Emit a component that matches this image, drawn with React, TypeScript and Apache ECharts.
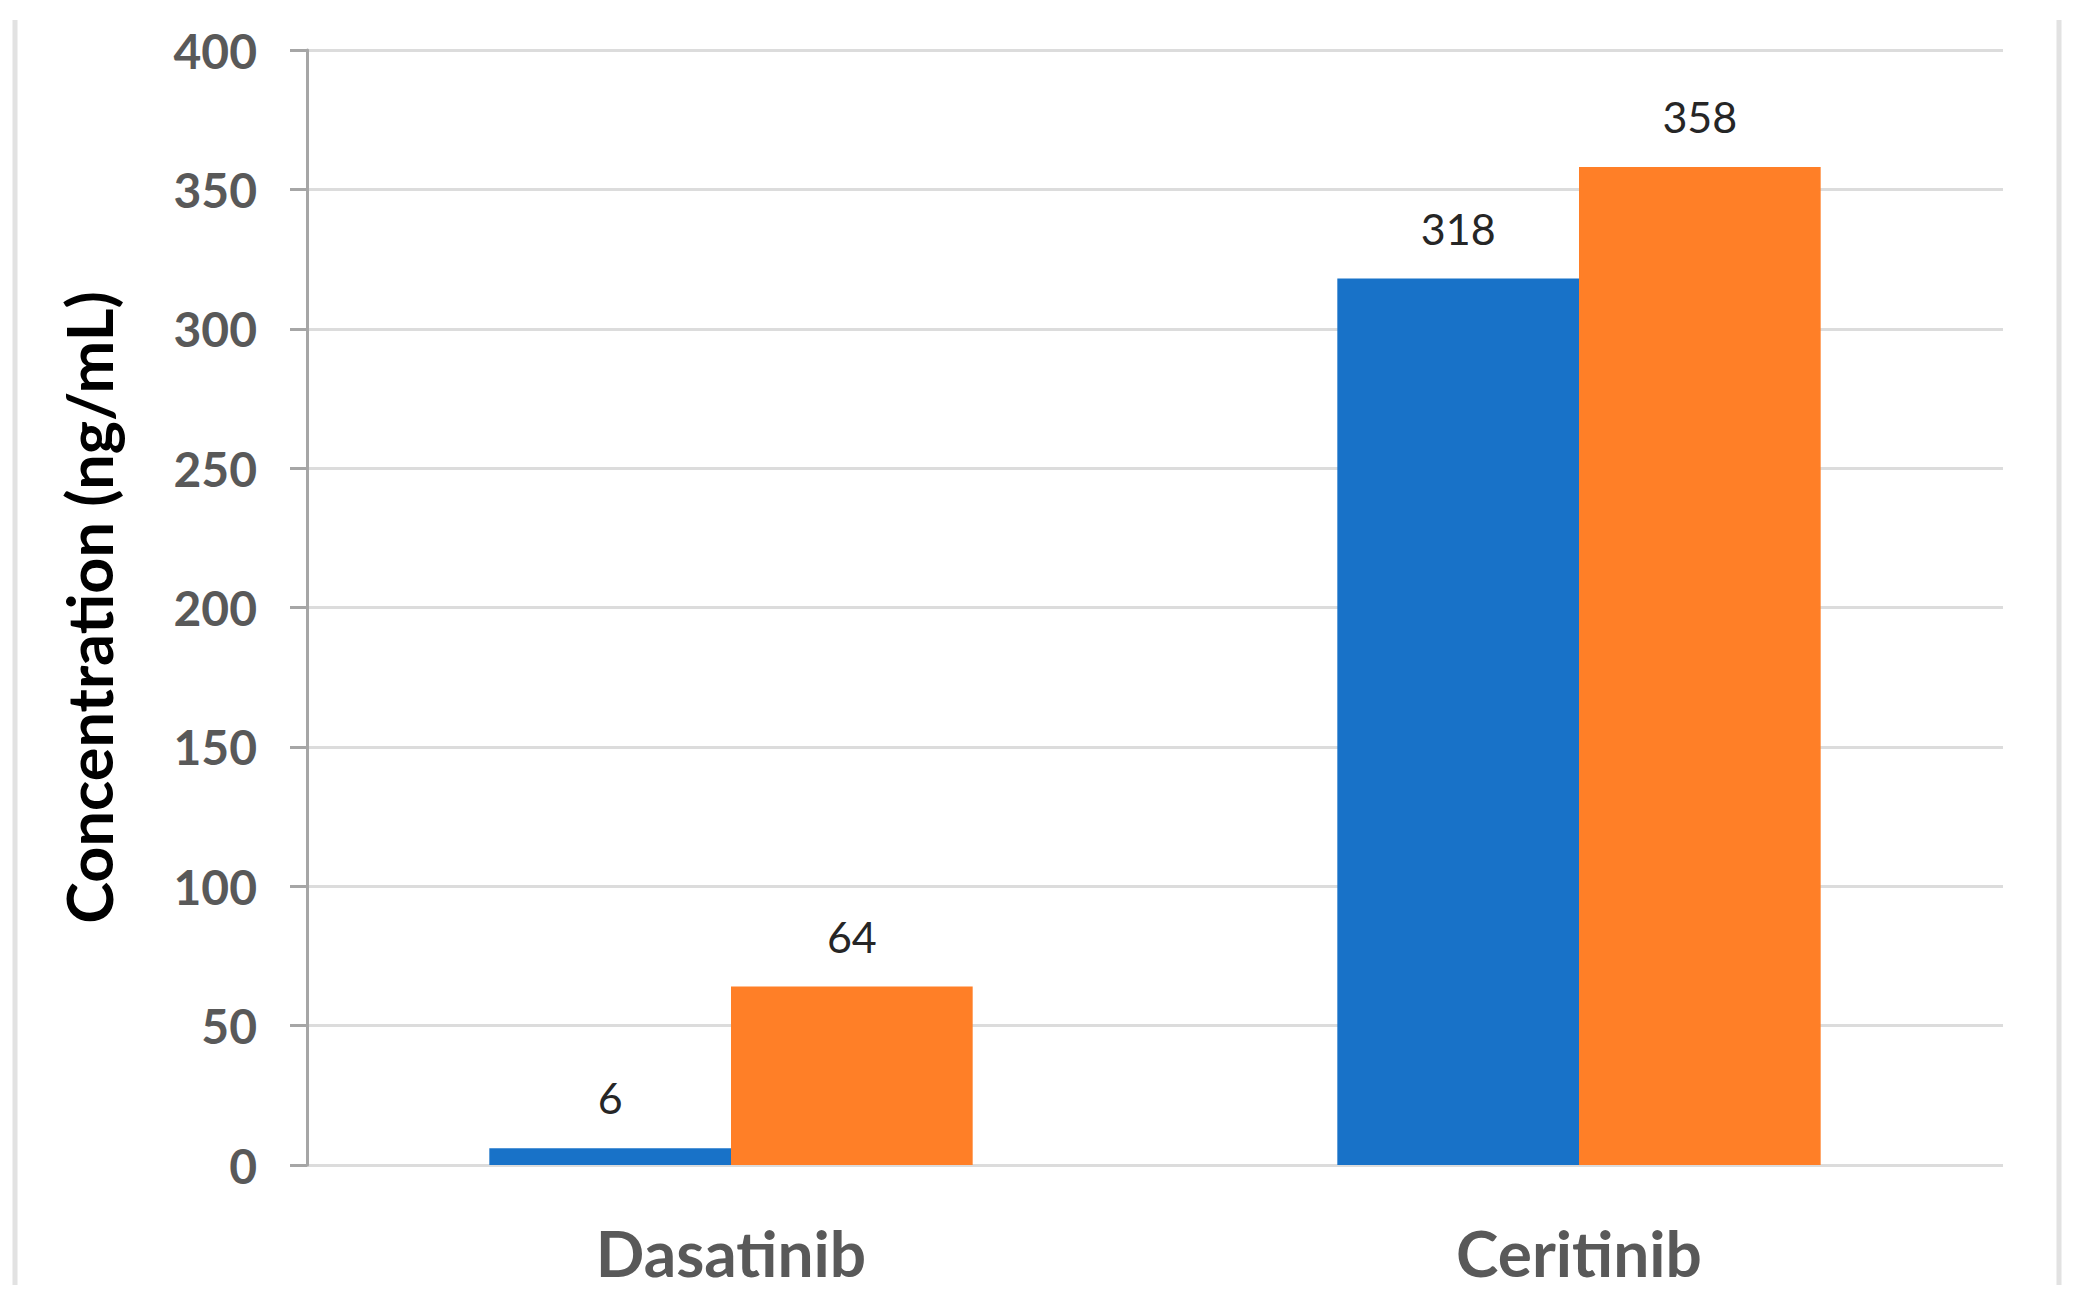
import React, { useEffect, useRef } from "react";
import * as echarts from "echarts";

const categories = ["Dasatinib", "Ceritinib"];
const seriesA = [6, 318];
const seriesB = [64, 358];
const yTicks = { min: 0, max: 400, interval: 50 };
const yAxisTitle = "Concentration (ng/mL)";

export default function App() {
  const ref = useRef<HTMLDivElement>(null);
  useEffect(() => {
    if (!ref.current) return;
    const chart = echarts.init(ref.current, undefined, { renderer: "svg" });
    const labelStyle = {
      show: true,
      position: "top" as const,
      distance: 29,
      fontFamily: "Lato",
      fontSize: 43,
      color: "#262626",
    };
    chart.setOption({
      animation: false,
      backgroundColor: "#ffffff",
      grid: { left: 307, right: 72, top: 50, bottom: 136 },
      graphic: [
        { type: "line", shape: { x1: 15, y1: 20, x2: 15, y2: 1285 }, style: { stroke: "#e2e2e2", lineWidth: 5 } },
        { type: "line", shape: { x1: 2059, y1: 20, x2: 2059, y2: 1285 }, style: { stroke: "#e2e2e2", lineWidth: 5 } },
      ],
      xAxis: {
        type: "category",
        data: categories,
        axisLine: { show: false },
        axisTick: { show: false },
        axisLabel: {
          margin: 55,
          fontFamily: "Lato",
          fontWeight: "bold",
          fontSize: 64,
          color: "#595959",
        },
      },
      yAxis: {
        type: "value",
        min: yTicks.min,
        max: yTicks.max,
        interval: yTicks.interval,
        name: yAxisTitle,
        nameLocation: "middle",
        nameRotate: 90,
        nameGap: 187,
        nameTextStyle: {
          fontFamily: "Lato",
          fontWeight: "bold",
          fontSize: 63,
          color: "#000000",
        },
        axisLine: { show: true, lineStyle: { color: "#a6a6a6", width: 3 } },
        axisTick: { show: true, length: 17, lineStyle: { color: "#a6a6a6", width: 3 } },
        splitLine: { show: true, lineStyle: { color: "#dcdcdc", width: 3 } },
        axisLabel: {
          margin: 50,
          fontFamily: "Lato",
          fontWeight: "bold",
          fontSize: 48,
          color: "#595959",
        },
      },
      series: [
        {
          type: "bar",
          data: seriesA,
          barGap: "0%",
          barCategoryGap: "43%",
          itemStyle: { color: "#1872C8" },
          label: labelStyle,
        },
        {
          type: "bar",
          data: seriesB,
          barGap: "0%",
          barCategoryGap: "43%",
          itemStyle: { color: "#FF7F27" },
          label: labelStyle,
        },
      ],
    });
    return () => chart.dispose();
  }, []);
  return (
    <div
      ref={ref}
      style={{ position: "fixed", left: 0, top: 0, width: 2075, height: 1301 }}
    />
  );
}
